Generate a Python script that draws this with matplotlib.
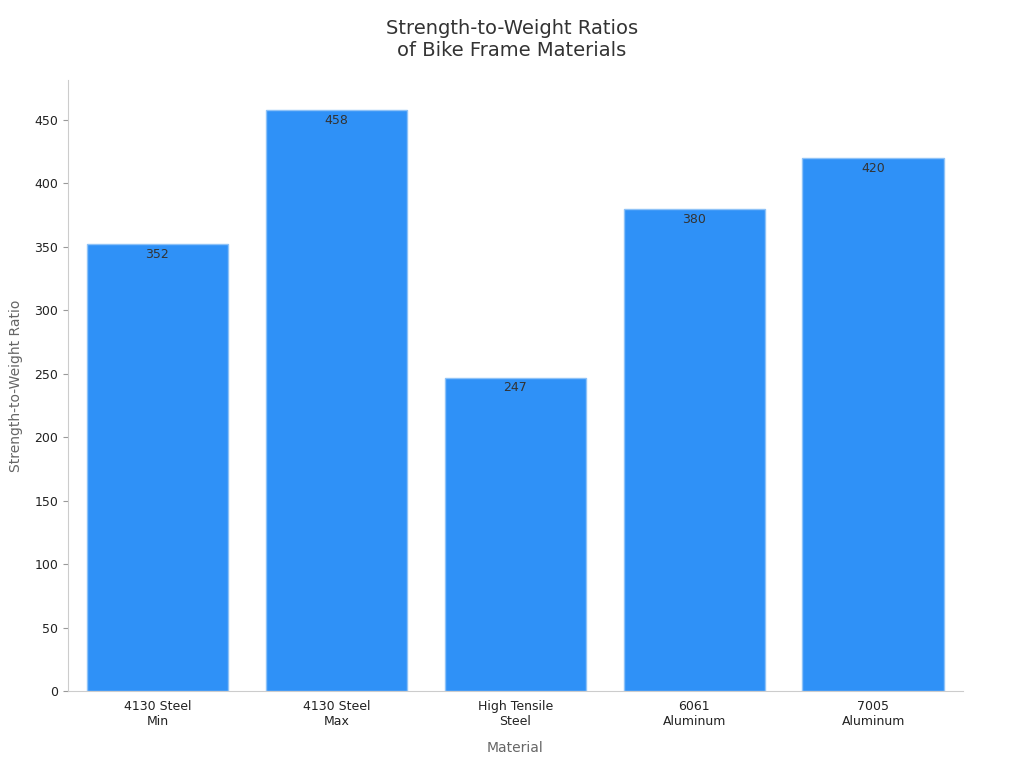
import matplotlib
matplotlib.use("Agg")
import matplotlib.pyplot as plt

categories = ["4130 Steel\nMin", "4130 Steel\nMax", "High Tensile\nSteel", "6061\nAluminum", "7005\nAluminum"]
values = [352, 458, 247, 380, 420]

fig = plt.figure(figsize=(10.24, 7.68), dpi=100)
ax = fig.add_axes([0.0664, 0.100, 0.8736, 0.796])
x = range(len(categories))
bars = ax.bar(x, values, width=0.79, color="#2F91F7", edgecolor="#8EC2F7", linewidth=1)
for xi, v in zip(x, values):
    ax.text(xi, v - 3, str(v), ha="center", va="top", fontsize=9, color="#333333")
ax.set_xlim(-0.5, 4.5)
ax.set_ylim(0, 481.5)
ax.set_yticks(range(0, 451, 50))
ax.set_xticks(list(x))
ax.set_xticklabels(categories, fontsize=9, color="#222222")
ax.tick_params(axis="y", labelsize=9, labelcolor="#222222", color="#999999")
ax.tick_params(axis="x", length=0, pad=6)
for s in ["top", "right"]:
    ax.spines[s].set_visible(False)
for s in ["left", "bottom"]:
    ax.spines[s].set_color("#CCCCCC")
ax.set_xlabel("Material", fontsize=10, color="#666666", labelpad=10)
ax.set_ylabel("Strength-to-Weight Ratio", fontsize=10, color="#666666", labelpad=8)
fig.suptitle("Strength-to-Weight Ratios\nof Bike Frame Materials", fontsize=14, color="#333333", y=0.975)
fig.savefig("out.png", dpi=100)
